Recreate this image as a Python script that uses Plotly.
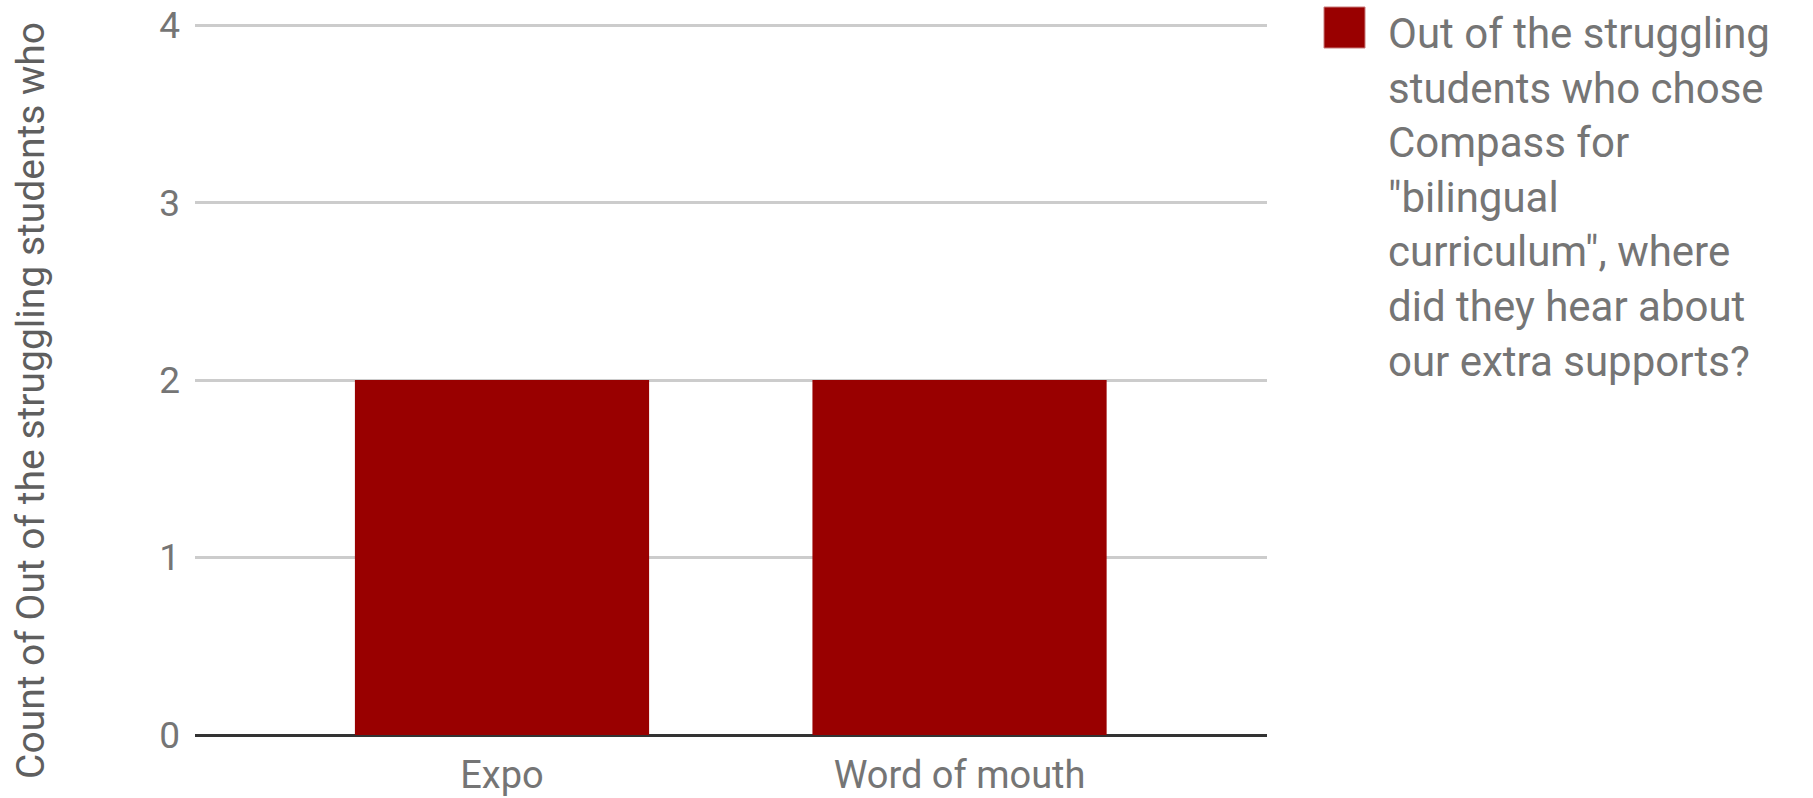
import plotly.graph_objects as go

# Survey responses: where struggling students heard about the extra supports
categories = ["Expo", "Word of mouth"]
counts = [2, 2]
y_ticks = [0, 1, 2, 3, 4]

series_name = ('Out of the struggling<br>students who chose<br>Compass for<br>"bilingual<br>'
               'curriculum", where<br>did they hear about<br>our extra supports?')
y_title = "Count of Out of the struggling students who"

BAR_COLOR = "#990000"
TEXT_GRAY = "#757575"
FONT = "Roboto"

W, H = 1813, 798
L, R, T, B = 195, 1267, 24, 735  # plot area in pixels
Y_MAX = 4.006  # a hair above the top tick so its gridline is drawn


def px_x(x):
    return (x - L) / (R - L)


def px_y(y):
    return (B - y) / (B - T)


fig = go.Figure()
fig.add_trace(go.Bar(
    x=categories,
    y=counts,
    marker=dict(color=BAR_COLOR, line=dict(width=0)),
    name=series_name.replace("<br>", " "),
    showlegend=False,
    hoverinfo="x+y",
))

fig.update_layout(
    width=W,
    height=H,
    margin=dict(l=L, r=W - R, t=T, b=H - B, pad=0, autoexpand=False),
    paper_bgcolor="white",
    plot_bgcolor="white",
    bargap=0.357,
    font=dict(family=FONT, color=TEXT_GRAY),
    xaxis=dict(
        type="category",
        range=[-0.671, 1.672],
        automargin=False,
        showgrid=False,
        showline=False,
        zeroline=False,
        ticks="",
        tickfont=dict(family=FONT, size=38, color=TEXT_GRAY),
        ticklabelstandoff=14,
    ),
    yaxis=dict(
        range=[0, Y_MAX],
        automargin=False,
        tickvals=y_ticks,
        ticktext=[str(v) for v in y_ticks],
        showgrid=True,
        gridcolor="#cccccc",
        gridwidth=3,
        zeroline=True,
        zerolinecolor="#333333",
        zerolinewidth=3,
        showline=False,
        ticks="",
        tickfont=dict(family=FONT, size=37, color=TEXT_GRAY),
        ticklabelstandoff=14,
    ),
)

# Axis title, placed by hand so it sits where the chart expects it
fig.add_annotation(
    text=y_title,
    xref="paper", yref="paper",
    x=px_x(31), y=px_y(401),
    xanchor="center", yanchor="middle",
    textangle=-90,
    showarrow=False,
    font=dict(family=FONT, size=39, color="#5f5f5f"),
)

# Legend: large swatch with wrapped series label
fig.add_shape(
    type="rect",
    xref="paper", yref="paper",
    x0=px_x(1324), x1=px_x(1365),
    y0=px_y(48), y1=px_y(7),
    fillcolor=BAR_COLOR,
    line=dict(color="#c87a7a", width=1),
)
fig.add_annotation(
    text=series_name,
    xref="paper", yref="paper",
    x=px_x(1386), y=px_y(7),
    xanchor="left", yanchor="top",
    align="left",
    showarrow=False,
    font=dict(family=FONT, size=42, color=TEXT_GRAY),
)

fig.write_html("out.html")
